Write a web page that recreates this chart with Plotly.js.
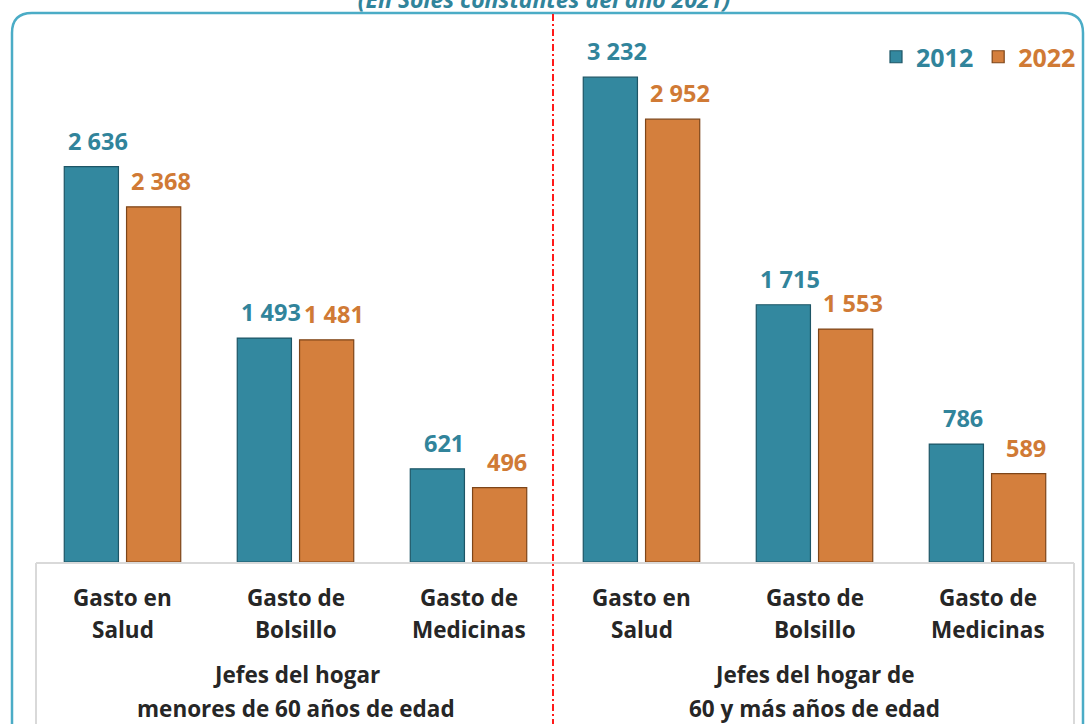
<!DOCTYPE html>
<html>
<head>
<meta charset="utf-8">
<script src="https://cdn.plot.ly/plotly-3.0.1.min.js"></script>
<style>html,body{margin:0;padding:0;background:#fff;}#chart{width:1086px;height:724px;}</style>
</head>
<body>
<div id="chart"></div>
<script>
// ---- data ----
const groupLine1 = ['Jefes del hogar', 'Jefes del hogar de'];
const groupLine2 = ['menores de 60 años de edad', '60 y más años de edad'];
const catLine1 = ['Gasto en', 'Gasto de', 'Gasto de'];
const catLine2 = ['Salud', 'Bolsillo', 'Medicinas'];
const series = ['2012', '2022'];
const values2012 = [2636, 1493, 621, 3232, 1715, 786];
const values2022 = [2368, 1481, 496, 2952, 1553, 589];
const titleText = '(En Soles constantes del año 2021)';

// ---- layout helpers ----
const W = 1086, H = 724;
const M = {l: 36, r: 12, t: 14, b: 162};
const PW = W - M.l - M.r, PH = H - M.t - M.b;
const px2x = p => (p - M.l) / PW;
const py2y = p => (H - M.b - p) / PH;
const PXPERUNIT = 0.15;

const teal = '#33889f', tealLine = '#1d5566', tealText = '#31849b';
const orange = '#d47f3d', orangeLine = '#7d4519', orangeText = '#d07a35';
const FONT = '"Open Sans", Lato, sans-serif';
const DARK = '#262626';

const keys = [];
groupLine1.forEach((g, gi) => catLine1.forEach((c, ci) => keys.push(gi + '|' + ci)));

const traces = [
  {type: 'bar', x: keys, y: values2012, name: '<b><span style="color:' + tealText + '">' + series[0] + '</span></b>',
   marker: {color: teal, line: {color: tealLine, width: 1.2}}, hoverinfo: 'y'},
  {type: 'bar', x: keys, y: values2022, name: '<b><span style="color:' + orangeText + '">' + series[1] + '</span></b>',
   marker: {color: orange, line: {color: orangeLine, width: 1.2}}, hoverinfo: 'y'}
];

const fmt = v => String(v).replace(/\B(?=(\d{3})+(?!\d))/g, ' ');
const annotations = [];
keys.forEach((k, i) => {
  annotations.push({x: k, y: values2012[i], xref: 'x', yref: 'y', text: '<b>' + fmt(values2012[i]) + '</b>',
    showarrow: false, xshift: -25, yshift: 8, xanchor: 'center', yanchor: 'bottom', font: {family: FONT, size: 23.5, color: tealText}});
  annotations.push({x: k, y: values2022[i], xref: 'x', yref: 'y', text: '<b>' + fmt(values2022[i]) + '</b>',
    showarrow: false, xshift: 38, yshift: 8, xanchor: 'center', yanchor: 'bottom', font: {family: FONT, size: 23.5, color: orangeText}});
  const ci = i % 3;
  annotations.push({x: k, xref: 'x', yref: 'paper', y: py2y(597), xanchor: 'center', yanchor: 'middle', showarrow: false,
    text: '<b>' + catLine1[ci] + '</b>', font: {family: FONT, size: 22.5, color: DARK}});
  annotations.push({x: k, xref: 'x', yref: 'paper', y: py2y(629), xanchor: 'center', yanchor: 'middle', showarrow: false,
    text: '<b>' + catLine2[ci] + '</b>', font: {family: FONT, size: 22.5, color: DARK}});
});
const groupCenters = [px2x(296), px2x(814)];
groupLine1.forEach((g, gi) => {
  annotations.push({x: groupCenters[gi], xref: 'paper', yref: 'paper', y: py2y(674), xanchor: 'center', yanchor: 'middle', showarrow: false,
    text: '<b>' + g + '</b>', font: {family: FONT, size: 22.5, color: DARK}});
  annotations.push({x: groupCenters[gi], xref: 'paper', yref: 'paper', y: py2y(708), xanchor: 'center', yanchor: 'middle', showarrow: false,
    text: '<b>' + groupLine2[gi] + '</b>', font: {family: FONT, size: 22.5, color: DARK}});
});

const X = px2x, Y = py2y;
const r = 20;
const borderPath = 'M' + X(12) + ',' + Y(760) + ' L' + X(12) + ',' + Y(13 + r) +
  ' Q' + X(12) + ',' + Y(13) + ' ' + X(12 + r) + ',' + Y(13) +
  ' L' + X(1083 - r) + ',' + Y(13) +
  ' Q' + X(1083) + ',' + Y(13) + ' ' + X(1083) + ',' + Y(13 + r) +
  ' L' + X(1083) + ',' + Y(760);

const shapes = [
  {type: 'path', xref: 'paper', yref: 'paper', path: borderPath, line: {color: '#4bacc6', width: 2.5}, layer: 'below'},
  {type: 'line', xref: 'paper', yref: 'paper', x0: X(36), x1: X(1074), y0: Y(563), y1: Y(563), line: {color: '#d9d9d9', width: 2}, layer: 'below'},
  {type: 'line', xref: 'paper', yref: 'paper', x0: X(36), x1: X(36), y0: Y(563), y1: Y(740), line: {color: '#d9d9d9', width: 2}, layer: 'below'},
  {type: 'line', xref: 'paper', yref: 'paper', x0: X(1074), x1: X(1074), y0: Y(563), y1: Y(740), line: {color: '#d9d9d9', width: 2}, layer: 'below'},
  {type: 'line', xref: 'paper', yref: 'paper', x0: X(553), x1: X(553), y0: Y(14), y1: Y(740), line: {color: '#ff1a1a', width: 2, dash: '7px,3px,2px,3px'}, layer: 'above'}
];

const layout = {
  width: W, height: H,
  margin: {l: M.l, r: M.r, t: M.t, b: M.b, autoexpand: false},
  paper_bgcolor: '#ffffff', plot_bgcolor: '#ffffff',
  font: {family: FONT},
  title: {text: '<b><i>' + titleText + '</i></b>', x: 544 / W, xanchor: 'center', y: 1, yanchor: 'middle',
    font: {family: FONT, size: 23, color: tealText}},
  barmode: 'group', bargap: 0.28, bargroupgap: 0.13,
  xaxis: {type: 'category', showticklabels: false, showgrid: false, zeroline: false, showline: false, ticks: '', fixedrange: true},
  yaxis: {range: [0, PH / PXPERUNIT], visible: false, showgrid: false, zeroline: false, fixedrange: true},
  showlegend: true,
  legend: {orientation: 'h', x: X(876), xanchor: 'left', y: Y(57), yanchor: 'middle',
    font: {family: FONT, size: 25, color: tealText, weight: 'bold'}, bgcolor: 'rgba(0,0,0,0)', borderwidth: 0, traceorder: 'normal'},
  annotations: annotations,
  shapes: shapes
};

Plotly.newPlot('chart', traces, layout, {displayModeBar: false, staticPlot: true});
</script>
</body>
</html>
